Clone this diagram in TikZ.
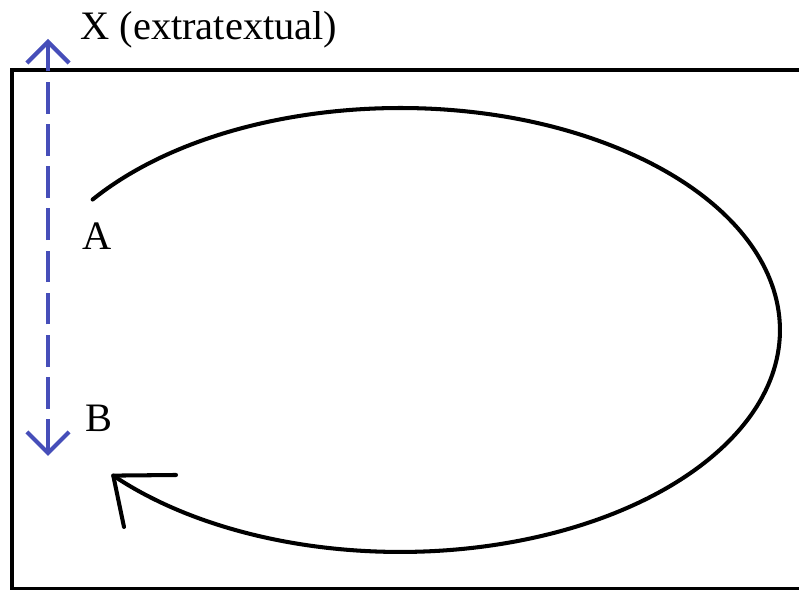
\documentclass[tikz,border=0pt]{standalone}
\usepackage{fontspec}
\setmainfont{Liberation Serif}
\usetikzlibrary{arrows.meta,calc}
\definecolor{xblue}{RGB}{70,78,185}

\begin{document}
\begin{tikzpicture}[x=0.02cm, y=0.02cm,
    frame/.style={line width=2.5pt},
    loopline/.style={line width=2.3pt, line cap=round, line join=round},
    extline/.style={xblue, line width=2.4pt, dash pattern=on 18pt off 6pt,
        {Straight Barb[length=12pt, width=24pt]}-{Straight Barb[length=12pt, width=24pt]}},
    lbl/.style={font=\fontsize{23}{27}\selectfont, inner sep=0pt}]
    \useasboundingbox (0,0) rectangle (799,590);

    % frame, open on the right
    \draw[frame] (799,520) -- (12,520) -- (12,1) -- (799,1);

    \node[lbl, anchor=base west] (xlabel) at (80,550) {X (extratextual)};
    \node[lbl] (a) at (97,354) {A};
    \node[lbl] (b) at (98.5,171.5) {B};

    \coordinate (ctr) at (400,260);
    \coordinate (xtop) at (48,551);
    \coordinate (xbot) at (48,134);

    % the loop from A round to B
    \draw[loopline] ($(ctr)+(144:7.6cm and 4.44cm)$) arc[start angle=144, end angle=-139, x radius=7.6cm, y radius=4.44cm] coordinate (tip);
    \draw[loopline] (176,115) -- (tip) -- (124,63);

    \draw[extline] (xbot) -- (xtop);
\end{tikzpicture}
\end{document}
